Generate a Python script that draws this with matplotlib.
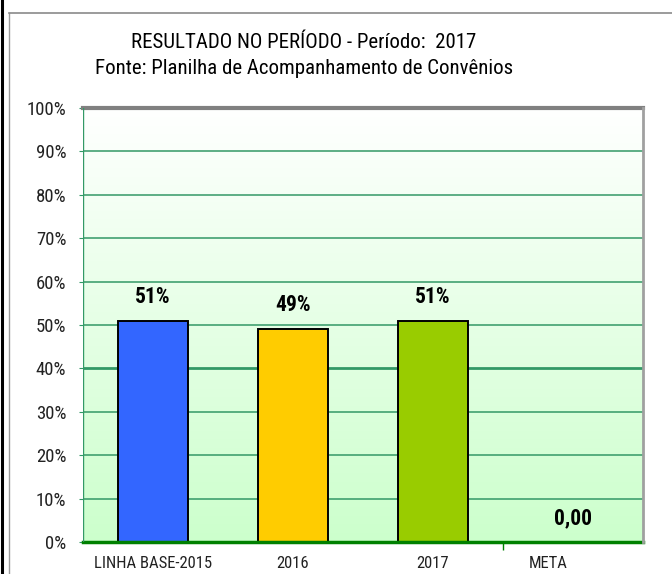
import numpy as np
import matplotlib
matplotlib.use("Agg")
import matplotlib.pyplot as plt
import matplotlib.transforms as mtransforms
from matplotlib import font_manager as fm
from matplotlib.colors import LinearSegmentedColormap
from matplotlib.ticker import PercentFormatter

# ---------------------------------------------------------------------------
# Data
# ---------------------------------------------------------------------------
categories = ["LINHA BASE-2015", "2016", "2017", "META"]
values = [0.51, 0.491, 0.51, 0.0]
value_labels = ["51%", "49%", "51%", "0,00"]
bar_colors = ["#3366FF", "#FFCC00", "#99CC00", "#99CC00"]
yticks = [0.0, 0.1, 0.2, 0.3, 0.4, 0.5, 0.6, 0.7, 0.8, 0.9, 1.0]

title_lines = ["RESULTADO NO PERÍODO - Período:  2017",
               "Fonte: Planilha de Acompanhamento de Convênios"]

# narrow font if one is installed, else condensed DejaVu
fams = {f.name for f in fm.fontManager.ttflist}
STRETCH = "normal"
if "Liberation Sans Narrow" in fams:
    FAMILY = "Liberation Sans Narrow"
elif "Roboto Condensed" in fams:
    FAMILY = "Roboto Condensed"
else:
    FAMILY = "DejaVu Sans"
    STRETCH = "condensed"
plt.rcParams["font.family"] = [FAMILY, "DejaVu Sans"]
plt.rcParams["font.stretch"] = STRETCH

# ---------------------------------------------------------------------------
# Figure
# ---------------------------------------------------------------------------
W, H = 672, 574
fig = plt.figure(figsize=(W / 100, H / 100), dpi=100)

# outer frame lines (black left edge, gray chart border)
fig.add_artist(plt.Line2D([1.5 / W, 1.5 / W], [0, 1], color="black", lw=2.2))
fig.add_artist(plt.Line2D([9 / W, 9 / W], [0, 1 - 13 / H], color="#9a9a9a", lw=1.0))
fig.add_artist(plt.Line2D([9 / W, 1], [1 - 13 / H, 1 - 13 / H], color="#8a8a8a", lw=1.2))

left, right, top, bottom = 83, 643, 108, 542
ax = fig.add_axes([left / W, 1 - bottom / H, (right - left) / W, (bottom - top) / H])

# gradient background: white at top, light green at bottom
grad = np.linspace(0, 1, 256).reshape(-1, 1)
cmap_bg = LinearSegmentedColormap.from_list("bg", ["#ccffcc", "#ffffff"])
ax.imshow(grad, aspect="auto", cmap=cmap_bg, origin="lower",
          extent=[-0.5, 3.5, 0, 1], zorder=0)

ax.set_xlim(-0.5, 3.5)
ax.set_ylim(0, 1)

# gridlines
for yv in yticks[1:-1]:
    lw = 2.0 if abs(yv - 0.4) < 1e-9 else 1.1
    ax.axhline(yv, color="#339966", lw=lw, zorder=1)

x = np.arange(len(categories))
bars = ax.bar(x[:3], values[:3], width=0.5, color=bar_colors[:3],
              edgecolor="black", linewidth=1.4, zorder=3)

# value labels
for xi, v, lab in zip(x, values, value_labels):
    ax.annotate(lab, (xi, v), xytext=(0, 17), textcoords="offset points",
                ha="center", va="center", fontsize=15.5, fontweight="bold",
                color="black", zorder=5)

# spines
for s in ax.spines.values():
    s.set_visible(False)
ax.axhline(1.0, color="#808080", lw=3, zorder=4, clip_on=False)
ax.axhline(0.0, color="#008000", lw=2.5, zorder=4, clip_on=False)
ax.axvline(-0.5, color="#339966", lw=1.0, zorder=4)
ax.axvline(3.5, color="#a0a0a0", lw=2.0, zorder=4, clip_on=False)

# y axis
ax.set_yticks(yticks)
ax.yaxis.set_major_formatter(PercentFormatter(1.0, decimals=0))
ax.tick_params(axis="y", length=3, color="#339966", pad=9, labelsize=13.5,
               labelcolor="#222222")

# x axis
ax.set_xticks(x)
ax.set_xticklabels(categories, fontsize=12, color="#222222")
ax.tick_params(axis="x", length=0, pad=10)
ax.set_xticks([2.5], minor=True)
ax.tick_params(axis="x", which="minor", length=6, color="#008000", width=1)
meta_lbl = ax.get_xticklabels()[3]
meta_lbl.set_transform(meta_lbl.get_transform() +
                       mtransforms.ScaledTranslation(-25 / 100, 0, fig.dpi_scale_trans))

# titles
fig.text(304 / W, 1 - 42 / H, title_lines[0], ha="center", va="center", fontsize=15)
fig.text(304 / W, 1 - 68 / H, title_lines[1], ha="center", va="center", fontsize=15)

fig.savefig("out.png", dpi=100)
